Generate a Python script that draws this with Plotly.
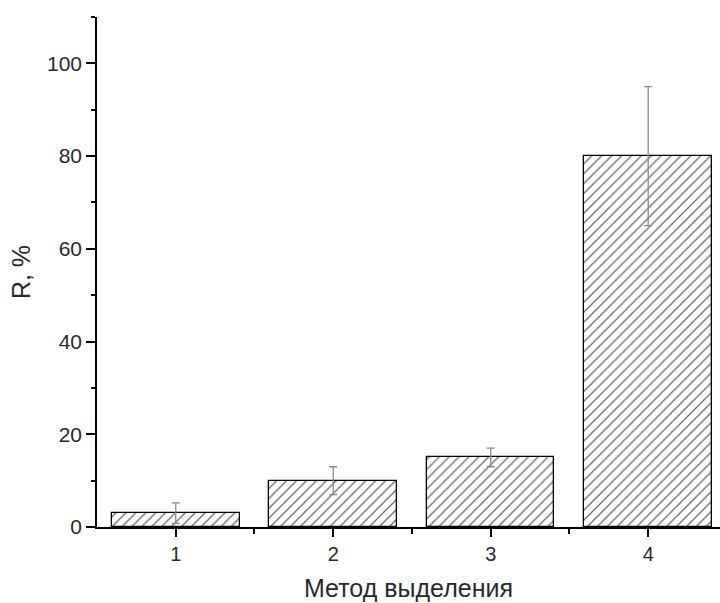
import plotly.graph_objects as go

# Recovery by extraction method
methods = [1, 2, 3, 4]
recovery = [3, 10, 15, 80]
recovery_err = [2.2, 3, 2, 15]
tick_labels = ["1", "2", "3", "4"]

font_family = "Liberation Sans, Arial, sans-serif"

fig = go.Figure()
fig.add_trace(go.Bar(
    x=methods,
    y=recovery,
    width=0.81,
    marker=dict(
        color="white",
        line=dict(color="black", width=1.3),
        pattern=dict(shape="/", fgcolor="#6a6a6a", bgcolor="white",
                     size=7, solidity=0.18, fillmode="replace"),
    ),
    error_y=dict(type="data", array=recovery_err, visible=True,
                 color="#8a8a8a", thickness=1.3, width=4),
    showlegend=False,
))

fig.update_layout(
    width=720, height=603,
    margin=dict(l=97, r=0, t=17, b=76),
    paper_bgcolor="white", plot_bgcolor="white",
    font=dict(family=font_family, size=20, color="#2a2a2a"),
    bargap=0,
)

fig.update_xaxes(
    range=[0.5, 4.456],
    tickmode="array", tickvals=methods, ticktext=tick_labels,
    ticks="outside", ticklen=8, tickwidth=1.5, tickcolor="black",
    minor=dict(tickmode="array", tickvals=[1.5, 2.5, 3.5], ticks="outside",
               ticklen=5, tickwidth=1.5, tickcolor="black"),
    showline=True, linecolor="black", linewidth=1.6,
    showgrid=False, zeroline=False,
    tickfont=dict(size=20, color="#2a2a2a"),
    title=dict(text="Метод выделения", font=dict(size=25, color="#2a2a2a"), standoff=16),
)

fig.update_yaxes(
    range=[0, 110],
    tickmode="array", tickvals=[0, 20, 40, 60, 80, 100],
    ticks="outside", ticklen=9, tickwidth=1.5, tickcolor="black",
    minor=dict(tickmode="array", tickvals=[10, 30, 50, 70, 90, 110], ticks="outside",
               ticklen=4, tickwidth=1.5, tickcolor="black"),
    showline=True, linecolor="black", linewidth=1.6,
    showgrid=False, zeroline=False,
    tickfont=dict(size=21, color="#2a2a2a"),
    title=dict(text="R, %", font=dict(size=25, color="#2a2a2a"), standoff=9),
)

fig.write_html("out.html")
